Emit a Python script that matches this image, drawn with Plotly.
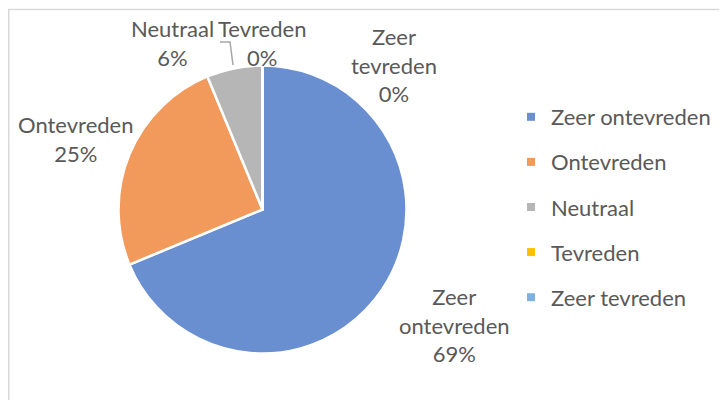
import plotly.graph_objects as go

categories = ["Zeer ontevreden", "Ontevreden", "Neutraal", "Tevreden", "Zeer tevreden"]
label_text = ["Zeer<br>ontevreden", "Ontevreden", "Neutraal", "Tevreden", "Zeer<br>tevreden"]
counts = [11, 4, 1, 0, 0]
colors = ["#6a8fd1", "#f19a5c", "#b6b6b6", "#ffc000", "#7eb1e0"]

txt = "#595959"
font = "Lato"
W, H = 727, 400


# page pixel -> paper coords (page has an 8px body margin)
def fx(p):
    return (p - 8) / W


def fy(p):
    return 1 - (p - 8) / H


fig = go.Figure()

fig.add_trace(go.Pie(
    labels=categories, values=counts, sort=False,
    direction="clockwise", rotation=0,
    marker=dict(colors=colors, line=dict(color="white", width=2.5)),
    textinfo="none", hoverinfo="label+percent",
    showlegend=False,
    domain=dict(x=[fx(262.5 - 144), fx(262.5 + 144)], y=[fy(209.5 + 144), fy(209.5 - 144)]),
))

# legend built from dummy traces so each entry can be spaced out
for name, c in zip(categories, colors):
    fig.add_trace(go.Scatter(
        x=[None], y=[None], mode="markers", name=name, legendgroup=name,
        marker=dict(symbol="square", size=8, color=c),
    ))

# data labels, placed like the Excel original
total = sum(counts)
label_pos = [(454, 325), (75, 139), (172, 43), (262, 43), (394, 65)]
for t, v, (px, py) in zip(label_text, counts, label_pos):
    fig.add_annotation(
        x=fx(px), y=fy(py), xref="paper", yref="paper",
        xanchor="center", yanchor="middle",
        text=f"{t}<br>{round(100 * v / total)}%", showarrow=False,
        font=dict(family=font, size=22, color=txt), align="center",
    )

# leader line for the Tevreden label
fig.add_shape(type="path", xref="paper", yref="paper",
              path=f"M {fx(220)} {fy(42)} L {fx(230)} {fy(42)} L {fx(233)} {fy(65)}",
              line=dict(color="#a6a6a6", width=1.5))

# chart frame
fig.add_shape(type="rect", xref="paper", yref="paper",
              x0=fx(8.75), y0=-0.05, x1=1.05, y1=fy(9.5),
              line=dict(color="#d9d9d9", width=1.5))

fig.update_layout(
    width=W, height=H,
    margin=dict(l=0, r=0, t=0, b=0),
    paper_bgcolor="white", plot_bgcolor="white",
    xaxis=dict(visible=False), yaxis=dict(visible=False),
    legend=dict(x=fx(511), y=fy(96), xanchor="left", yanchor="top",
                font=dict(family=font, size=22, color=txt),
                tracegroupgap=13.5, itemwidth=30),
)

fig.write_html("out.html")
